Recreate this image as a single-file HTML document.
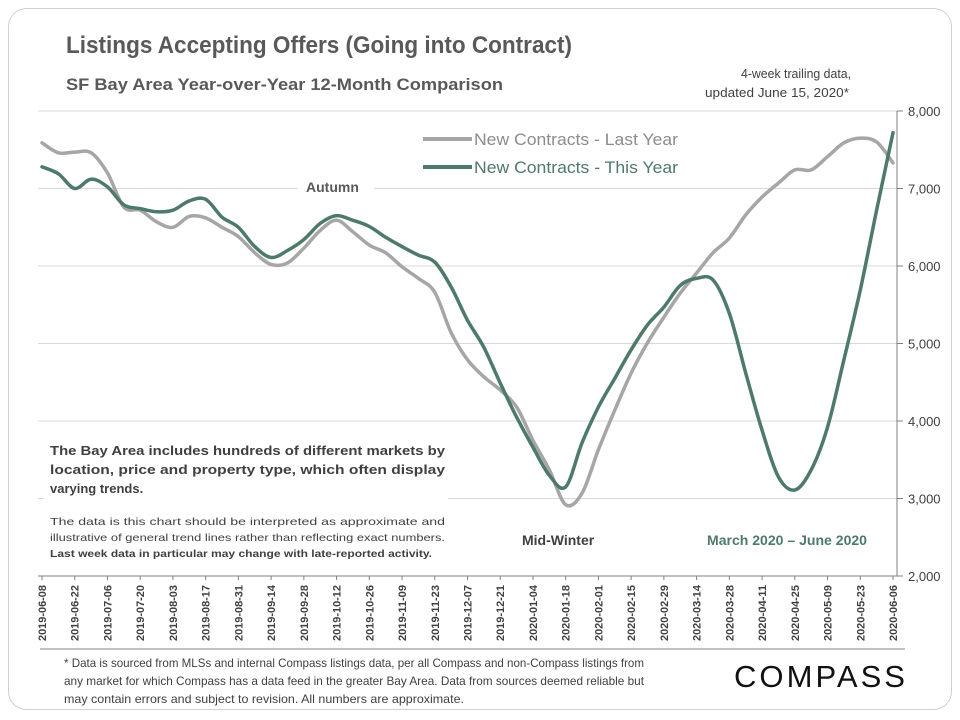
<!DOCTYPE html>
<html><head><meta charset="utf-8"><style>
html,body{margin:0;padding:0;background:#fff}
svg{display:block;font-family:"Liberation Sans",sans-serif}
</style></head><body>
<svg id="chart" width="960" height="720" viewBox="0 0 960 720">
<rect x="8.5" y="8.5" width="943" height="701" rx="18" fill="#fff" stroke="#d0d0d0"/>
<text x="66" y="53" font-size="24" font-weight="bold" fill="#595959" textLength="506" lengthAdjust="spacingAndGlyphs">Listings Accepting Offers (Going into Contract)</text>
<text x="66" y="90" font-size="17" font-weight="bold" fill="#595959" textLength="437" lengthAdjust="spacingAndGlyphs">SF Bay Area Year-over-Year  12-Month  Comparison</text>
<text x="741" y="78" font-size="13" fill="#404040" textLength="110" lengthAdjust="spacingAndGlyphs">4-week trailing data,</text>
<text x="705" y="97" font-size="13" fill="#404040" textLength="144" lengthAdjust="spacingAndGlyphs">updated June 15,  2020*</text>
<g id="grid"></g>
<g id="yticks"></g>
<g id="xticks"></g>
<rect x="298" y="178" width="76" height="20" fill="#fff"/>
<text x="306" y="192" font-size="14" font-weight="bold" fill="#595959">Autumn</text>
<rect x="44" y="436" width="404" height="130" fill="#fff"/>
<g id="series"></g>
<g>
<line x1="423" y1="139" x2="472" y2="139" stroke="#a6a6a6" stroke-width="4"/>
<text x="474" y="145" font-size="17" fill="#8c8c8c" textLength="204" lengthAdjust="spacingAndGlyphs">New Contracts - Last Year</text>
<line x1="423" y1="167" x2="472" y2="167" stroke="#4e7a68" stroke-width="4"/>
<text x="474" y="173" font-size="17" fill="#4e7a68" textLength="204" lengthAdjust="spacingAndGlyphs">New Contracts - This Year</text>
</g>
<g font-size="13" font-weight="bold" fill="#404040">
<text x="50" y="455" textLength="395" lengthAdjust="spacingAndGlyphs">The Bay Area includes hundreds of different markets by</text>
<text x="50" y="474" textLength="395" lengthAdjust="spacingAndGlyphs">location, price and property type, which often display</text>
<text x="50" y="493">varying trends.</text>
</g>
<g font-size="10.5" fill="#404040">
<text x="50" y="525" textLength="395" lengthAdjust="spacingAndGlyphs">The data is this chart should be interpreted as approximate and</text>
<text x="50" y="541" textLength="395" lengthAdjust="spacingAndGlyphs">illustrative of general trend lines rather than reflecting exact numbers.</text>
<text x="50" y="557" font-weight="bold" textLength="382" lengthAdjust="spacingAndGlyphs">Last week data in particular may change with late-reported activity.</text>
</g>
<text x="522" y="545" font-size="14" font-weight="bold" fill="#404040">Mid-Winter</text>
<text x="707" y="545" font-size="13.5" font-weight="bold" fill="#4e7a68" textLength="160" lengthAdjust="spacingAndGlyphs">March 2020 – June 2020</text>
<line x1="40" y1="649" x2="905" y2="649" stroke="#808080" stroke-width="1"/>
<g font-size="12" fill="#404040">
<text x="64" y="667" textLength="580" lengthAdjust="spacingAndGlyphs">* Data is sourced from MLSs and internal Compass listings data, per all Compass and non-Compass listings from</text>
<text x="64" y="685" textLength="580" lengthAdjust="spacingAndGlyphs">any market for which Compass has a data feed in the greater Bay Area. Data from sources deemed reliable but</text>
<text x="64" y="703" textLength="400" lengthAdjust="spacingAndGlyphs">may contain errors and subject to revision. All numbers are approximate.</text>
</g>
<text x="734" y="687" font-size="31" fill="#111" textLength="174" lengthAdjust="spacingAndGlyphs" letter-spacing="3">COMPASS</text>
</svg>
<script>
const xLabels = ["2019-06-08","2019-06-22","2019-07-06","2019-07-20","2019-08-03","2019-08-17","2019-08-31","2019-09-14","2019-09-28","2019-10-12","2019-10-26","2019-11-09","2019-11-23","2019-12-07","2019-12-21","2020-01-04","2020-01-18","2020-02-01","2020-02-15","2020-02-29","2020-03-14","2020-03-28","2020-04-11","2020-04-25","2020-05-09","2020-05-23","2020-06-06"];
const yTicks = [2000,3000,4000,5000,6000,7000,8000];
const lastYear = [7590,7460,7470,7460,7200,6760,6720,6570,6500,6640,6620,6500,6380,6170,6020,6040,6230,6460,6590,6440,6270,6170,5990,5840,5660,5140,4790,4570,4400,4180,3750,3370,2920,3070,3630,4140,4620,5010,5340,5650,5910,6170,6360,6660,6890,7070,7240,7240,7410,7590,7650,7600,7330];
const thisYear = [7280,7190,7000,7120,7020,6790,6740,6700,6720,6840,6860,6630,6500,6250,6110,6200,6340,6550,6650,6590,6510,6370,6250,6140,6050,5730,5300,4950,4490,4050,3660,3300,3150,3720,4180,4550,4920,5240,5470,5750,5840,5820,5390,4620,3880,3280,3110,3370,3920,4790,5690,6720,7720];
const NS="http://www.w3.org/2000/svg";
const X0=42, X1=893, Y0=576, Y1=111, YMIN=2000, YMAX=8000;
const xWeek = i => X0 + (X1-X0)*i/(lastYear.length-1);
const y = v => Y0 - (v-YMIN)/(YMAX-YMIN)*(Y0-Y1);
function mk(tag, attrs){const e=document.createElementNS(NS,tag);for(const k in attrs)e.setAttribute(k,attrs[k]);return e;}
const grid=document.getElementById('grid'), yt=document.getElementById('yticks'), xt=document.getElementById('xticks'), ser=document.getElementById('series');
yTicks.forEach(v=>{
  if(v>YMIN){const g=mk('line',{x1:38,x2:897,y1:y(v),y2:y(v),stroke:'#d9d9d9','stroke-width':1});
  
  
  grid.appendChild(g);}
  const t=mk('line',{x1:897,x2:903,y1:y(v),y2:y(v),stroke:'#808080'});
  
  
  yt.appendChild(t);
  const l=mk('text',{x:908,y:y(v)+5,'font-size':13,fill:'#404040'});
  l.textContent=v.toLocaleString('en-US');
  
  
  yt.appendChild(l);
});
const ax=mk('line',{x1:897,x2:897,y1:Y1,y2:Y0,stroke:'#808080'});


yt.appendChild(ax);
const bx=mk('line',{x1:38,x2:897,y1:Y0,y2:Y0,stroke:'#808080'});


xt.appendChild(bx);
xLabels.forEach((s,i)=>{
  const xx=X0+(X1-X0)*i/(xLabels.length-1);
  const t=mk('line',{x1:xx,x2:xx,y1:Y0,y2:Y0+4,stroke:'#808080'});
  
  
  xt.appendChild(t);
  const l=mk('text',{x:0,y:0,'font-size':11,'font-weight':'bold',fill:'#404040',transform:`translate(${xx+4},${Y0+65}) rotate(-90)`,textLength:56,lengthAdjust:'spacingAndGlyphs'});
  l.textContent=s;
  
  
  xt.appendChild(l);
});
function path(arr,color,name){
  const P=arr.map((v,i)=>[xWeek(i),y(v)]);
  let d='M'+P[0][0].toFixed(1)+','+P[0][1].toFixed(1);
  for(let i=0;i<P.length-1;i++){
    const p0=P[Math.max(0,i-1)],p1=P[i],p2=P[i+1],p3=P[Math.min(P.length-1,i+2)];
    const c1=[p1[0]+(p2[0]-p0[0])/6,p1[1]+(p2[1]-p0[1])/6];
    const c2=[p2[0]-(p3[0]-p1[0])/6,p2[1]-(p3[1]-p1[1])/6];
    d+=` C${c1[0].toFixed(1)},${c1[1].toFixed(1)} ${c2[0].toFixed(1)},${c2[1].toFixed(1)} ${p2[0].toFixed(1)},${p2[1].toFixed(1)}`;
  }
  const p=mk('path',{d:d,fill:'none',stroke:color,'stroke-width':3.5,'stroke-linejoin':'round','stroke-linecap':'round'});
  
  
  ser.appendChild(p);
}
path(lastYear,'#a6a6a6','line-last-year');
path(thisYear,'#4e7a68','line-this-year');
</script>
</body></html>
